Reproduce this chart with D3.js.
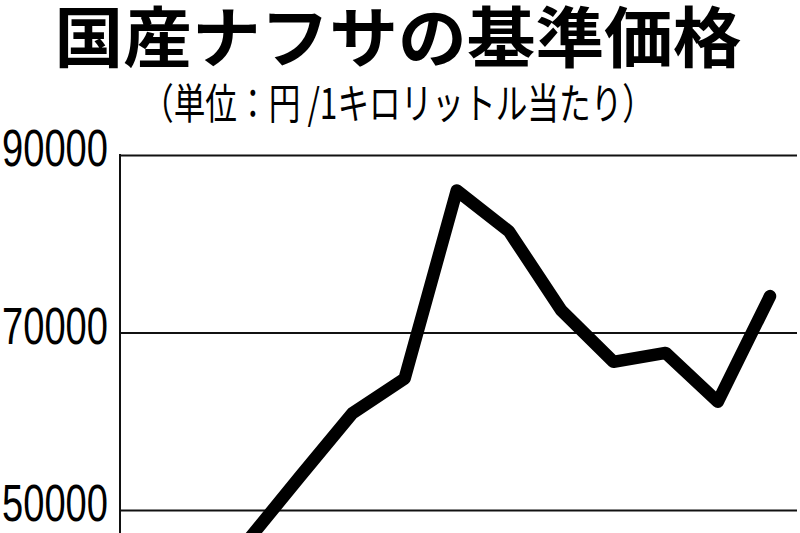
<!DOCTYPE html>
<html><head><meta charset="utf-8">
<script src="https://cdn.jsdelivr.net/npm/d3@7/dist/d3.min.js"></script>
<style>html,body{margin:0;padding:0;background:#fff;overflow:hidden}</style>
</head><body>
<svg id="c" width="800" height="533"></svg>
<script>
const title = "国産ナフサの基準価格";
const subtitle = "（単位：円 /1キロリットル当たり）";
const periods = ["1","2","3","4","5","6","7","8","9","10","11"];
const prices = [46600, 53800, 60900, 64800, 86000, 81400, 72500, 66700, 67700, 62200, 74100];
const yTicks = [50000, 70000, 90000];

const svg = d3.select("#c");
const y = d3.scaleLinear().domain([50000, 90000]).range([510, 155]);
const x = d3.scalePoint().domain(periods).range([248, 770]);

svg.append("text").attr("x", 398).attr("y", 62).attr("text-anchor", "middle")
  .attr("font-family", "'Noto Sans CJK JP'").attr("font-weight", 700)
  .attr("font-size", 66).attr("textLength", 687).attr("lengthAdjust", "spacingAndGlyphs")
  .attr("fill", "#000").text(title);

svg.append("text").attr("x", 398).attr("y", 119).attr("text-anchor", "middle")
  .attr("font-family", "'Noto Sans CJK JP'").attr("font-weight", 400)
  .attr("font-size", 42).attr("textLength", 512).attr("lengthAdjust", "spacingAndGlyphs")
  .attr("fill", "#000").text(subtitle);

// grid lines via axis
const yAxis = d3.axisRight(y).tickValues(yTicks).tickSize(677).tickFormat("");
const gA = svg.append("g").attr("transform", "translate(120,0)").call(yAxis);
gA.select(".domain").remove();
gA.selectAll(".tick line").attr("stroke", "#111").attr("stroke-width", 2);

svg.append("line").attr("x1", 120).attr("x2", 120).attr("y1", y(90000) - 1).attr("y2", 533)
  .attr("stroke", "#111").attr("stroke-width", 2);

svg.selectAll("text.yl").data(yTicks).enter().append("text").attr("class", "yl")
  .attr("x", 108).attr("y", d => y(d) + 11).attr("text-anchor", "end")
  .attr("font-family", "'Liberation Sans', Arial, sans-serif").attr("font-size", 51)
  .attr("textLength", 106).attr("lengthAdjust", "spacingAndGlyphs")
  .attr("fill", "#000").text(d => d);

const line = d3.line().x((d, i) => x(periods[i])).y(d => y(d));
svg.append("path").datum(prices).attr("d", line).attr("fill", "none")
  .attr("stroke", "#000").attr("stroke-width", 12.5)
  .attr("stroke-linejoin", "round").attr("stroke-linecap", "round");
</script>
</body></html>
